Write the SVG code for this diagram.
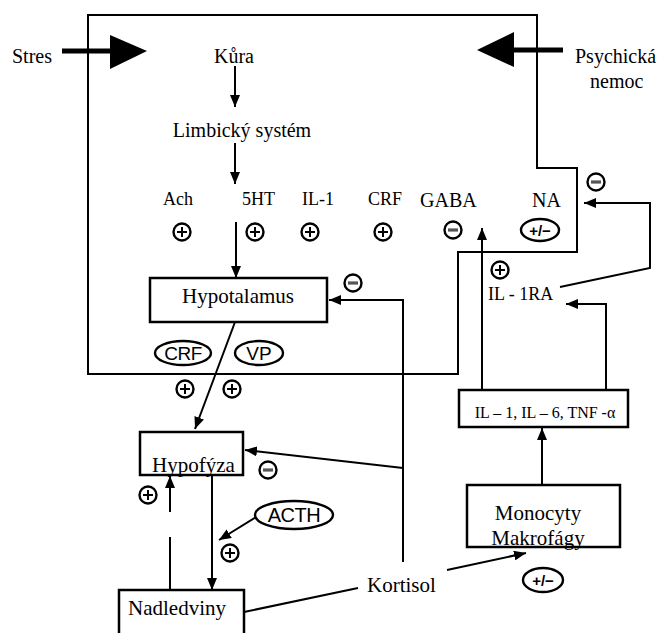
<svg xmlns="http://www.w3.org/2000/svg" xmlns:xlink="http://www.w3.org/1999/xlink" width="661" height="633" viewBox="0 0 661 633">
<style>
.t{font-family:"Liberation Serif","Times New Roman",serif;fill:#000}
.s{font-family:"Liberation Sans",Arial,sans-serif;fill:#000}
.ln{fill:none;stroke:#000;stroke-width:2}
.bx{fill:#fff;stroke:#000;stroke-width:2.5}
.el{fill:#fff;stroke:#000;stroke-width:2.4}
</style>
<defs>
<marker id="ah" markerUnits="userSpaceOnUse" markerWidth="12" markerHeight="10" refX="12" refY="5" orient="auto"><path d="M0,0 L12,5 L0,10 Z" fill="#000"/></marker>
<g id="plus"><circle r="8.5" fill="#fff" stroke="#000" stroke-width="2.4"/><path d="M-5,0H5M0,-5V5" stroke="#000" stroke-width="2"/></g>
<g id="minus"><circle r="8.5" fill="#fff" stroke="#000" stroke-width="2.4"/><path d="M-5,0H5" stroke="#555" stroke-width="3.2"/></g>
</defs>

<g id="frame">
<path class="ln" stroke-width="2.5" d="M88,15 H537 V168 H577 V252 H458 V374 H88 Z"/>
</g>

<g id="stres">
<text class="t" x="12" y="63" font-size="20">Stres</text>
<line x1="62" y1="51" x2="112" y2="51" stroke="#000" stroke-width="5"/>
<polygon points="110,35 147,51 110,69" fill="#000"/>
</g>

<g id="psychicka">
<text class="t" x="575" y="63" font-size="20">Psychická</text>
<text class="t" x="590" y="88" font-size="20">nemoc</text>
<line x1="563" y1="50" x2="512" y2="50" stroke="#000" stroke-width="5"/>
<polygon points="514,32 477,50 514,67" fill="#000"/>
</g>

<g id="kura"><text class="t" x="234" y="63" font-size="20" text-anchor="middle">Kůra</text></g>
<g id="limbicky"><text class="t" x="242" y="137" font-size="20" text-anchor="middle">Limbický systém</text></g>

<g id="mediators">
<text class="t" x="163" y="205" font-size="18">Ach</text>
<text class="t" x="242" y="205" font-size="18">5HT</text>
<text class="t" x="302" y="205" font-size="18">IL-1</text>
<text class="t" x="368" y="205" font-size="18">CRF</text>
<text class="t" x="420" y="207" font-size="20">GABA</text>
<text class="t" x="532" y="207" font-size="20">NA</text>
<use xlink:href="#plus" x="182" y="232"/>
<use xlink:href="#plus" x="255" y="232"/>
<use xlink:href="#plus" x="310" y="232"/>
<use xlink:href="#plus" x="383" y="232"/>
<use xlink:href="#minus" x="453" y="230"/>
<ellipse class="el" cx="540" cy="230" rx="19" ry="11"/>
<text class="s" x="540" y="235.500" font-size="15" font-weight="bold" text-anchor="middle">+/−</text>
</g>

<g id="hypotalamus">
<rect class="bx" x="150" y="278" width="177" height="44"/>
<text class="t" x="238" y="303" font-size="21" text-anchor="middle">Hypotalamus</text>
</g>

<g id="hypofyza">
<rect class="bx" x="140" y="432" width="103" height="43"/>
<text class="t" x="152" y="472" font-size="21">Hypofýza</text>
</g>

<g id="nadledviny">
<rect class="bx" x="119" y="590" width="125" height="60"/>
<text class="t" x="128" y="615" font-size="21">Nadledviny</text>
</g>

<g id="kortisol"><text class="t" x="367" y="592" font-size="21">Kortisol</text></g>

<g id="monocyty">
<rect class="bx" x="467" y="485" width="153" height="62"/>
<text class="t" x="538" y="520" font-size="21" text-anchor="middle">Monocyty</text>
<text class="t" x="538" y="545" font-size="21" text-anchor="middle">Makrofágy</text>
</g>

<g id="cytokiny">
<rect class="bx" x="459" y="390" width="169" height="37"/>
<text class="t" x="545" y="418" font-size="16" text-anchor="middle">IL – 1, IL – 6, TNF -α</text>
</g>

<g id="il1ra"><text class="t" x="488" y="300" font-size="18">IL - 1RA</text></g>

<g id="crf-vp">
<ellipse class="el" cx="183" cy="353" rx="28" ry="12"/>
<text class="s" x="183" y="360" font-size="19" text-anchor="middle" letter-spacing="-0.5">CRF</text>
<ellipse class="el" cx="259" cy="353" rx="24" ry="12"/>
<text class="s" x="259" y="360" font-size="19" text-anchor="middle">VP</text>
</g>

<g id="acth">
<ellipse class="el" cx="294" cy="515" rx="39" ry="14"/>
<text class="s" x="294" y="522" font-size="20" text-anchor="middle" letter-spacing="-0.5">ACTH</text>
</g>

<g id="connectors">
<line class="ln" x1="235" y1="66" x2="235" y2="107" marker-end="url(#ah)"/>
<line class="ln" x1="235" y1="143" x2="235" y2="184" marker-end="url(#ah)"/>
<line class="ln" x1="236" y1="222" x2="236" y2="278" marker-end="url(#ah)"/>
<path class="ln" d="M403,562 V300 H329" marker-end="url(#ah)"/>
<line class="ln" x1="235" y1="322" x2="195" y2="429" marker-end="url(#ah)"/>
<line class="ln" x1="403" y1="468" x2="245" y2="450" marker-end="url(#ah)"/>
<line class="ln" x1="170" y1="512" x2="170" y2="476" marker-end="url(#ah)"/>
<line class="ln" x1="170" y1="537" x2="170" y2="590"/>
<line class="ln" x1="212" y1="475" x2="212" y2="590" marker-end="url(#ah)"/>
<line class="ln" x1="256" y1="517" x2="219" y2="540" marker-end="url(#ah)"/>
<line class="ln" x1="244" y1="612" x2="358" y2="588"/>
<line class="ln" x1="447" y1="570" x2="526" y2="553" marker-end="url(#ah)"/>
<line class="ln" x1="542" y1="485" x2="542" y2="428" marker-end="url(#ah)"/>
<line class="ln" x1="482" y1="390" x2="482" y2="228" marker-end="url(#ah)"/>
<path class="ln" d="M606,390 V304 H566" marker-end="url(#ah)"/>
<path class="ln" d="M560,287 L650,268 V203 H584" marker-end="url(#ah)"/>
</g>

<g id="signs">
<use xlink:href="#minus" x="353" y="283"/>
<use xlink:href="#plus" x="185" y="389"/>
<use xlink:href="#plus" x="232" y="389"/>
<use xlink:href="#minus" x="268" y="470"/>
<use xlink:href="#plus" x="148" y="495"/>
<use xlink:href="#plus" x="230" y="553"/>
<use xlink:href="#plus" x="500" y="270"/>
<use xlink:href="#minus" x="596" y="182"/>
<ellipse class="el" cx="543" cy="580" rx="20" ry="12"/>
<text class="s" x="543" y="585.500" font-size="15" font-weight="bold" text-anchor="middle">+/−</text>
</g>
</svg>
